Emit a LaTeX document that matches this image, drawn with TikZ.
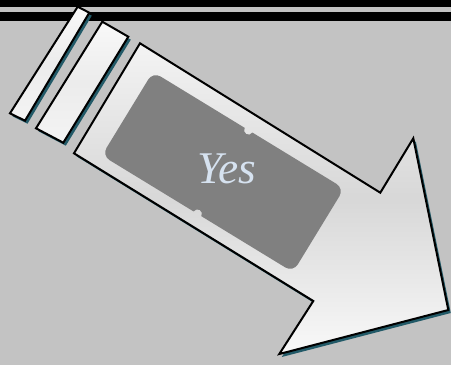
\documentclass[tikz,border=0pt]{standalone}
\usepackage{fontspec}
\setmainfont{Liberation Serif}
\definecolor{bggray}{RGB}{195,195,195}
\definecolor{shadowteal}{RGB}{34,90,104}
\definecolor{plaquegray}{RGB}{128,128,128}
\definecolor{yesblue}{RGB}{214,226,240}
\tikzset{every picture/.style={line width=0.75pt}}
\tikzset{
  dropshadow/.style={fill=shadowteal, draw=none, shift={(2.5,3)}},
  stripshape/.style={draw=black, line width=1.5pt, top color=gray!5, bottom color=gray!9, middle color=gray!15},
  arrowshape/.style={draw=black, line width=1.5pt, top color=gray!9, bottom color=gray!5, middle color=gray!31},
  plaque/.style={fill=plaquegray},
}

\begin{document}
\begin{tikzpicture}[x=0.75pt,y=0.75pt,yscale=-1,xscale=1]
		\useasboundingbox (0,0) rectangle (451,365);
		%Background
		\fill [bggray] (0,0) rectangle (451,365);
		%Top bars
		\fill [black] (0,0) rectangle (451,7);
		\fill [black] (0,12) rectangle (451,20.7);
		
		%Strip 1
		\fill [dropshadow] (77.7,6.7) -- (89.3,12.7) -- (25,120.7) -- (10,113.3) -- cycle;
		\draw [stripshape] (77.7,6.7) -- (89.3,12.7) -- (25,120.7) -- (10,113.3) -- cycle;
		%Strip 2
		\fill [dropshadow] (102.3,21.7) -- (128.3,36.7) -- (63.3,142.7) -- (36,128.3) -- cycle;
		\draw [stripshape] (102.3,21.7) -- (128.3,36.7) -- (63.3,142.7) -- (36,128.3) -- cycle;
		
		%Arrow
		\fill [dropshadow] (140,43.3) -- (380.3,192.7) -- (413.3,138.3) -- (448.3,310) -- (279.3,354) -- (313.3,301) -- (74,153.3) -- cycle;
		\draw [arrowshape] (140,43.3) -- (380.3,192.7) -- (413.3,138.3) -- (448.3,310) -- (279.3,354) -- (313.3,301) -- (74,153.3) -- cycle;
		
		%Plaque
		\begin{scope}[shift={(223,172)},rotate=31.4]
		\fill [plaque] (-112,-40) arc[start angle=180,end angle=270,radius=9] -- (-4.5,-49) arc[start angle=180,end angle=0,radius=4.5]
		  -- (103,-49) arc[start angle=270,end angle=360,radius=9] -- (112,40) arc[start angle=0,end angle=90,radius=9]
		  -- (4.5,49) arc[start angle=0,end angle=-180,radius=4.5] -- (-103,49) arc[start angle=90,end angle=180,radius=9] -- cycle;
		\end{scope}
		
		% Text Node
		\node [text=yesblue, font=\itshape\fontsize{34}{40}\selectfont, inner sep=0pt] (yes) at (227,169) {Yes};
	\end{tikzpicture}
\end{document}
